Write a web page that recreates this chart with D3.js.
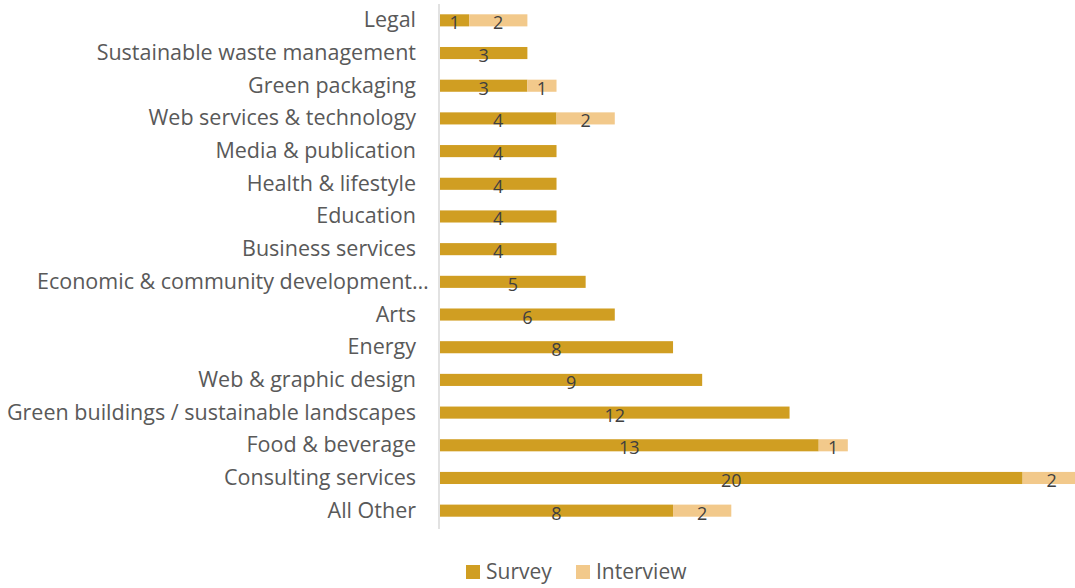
<!DOCTYPE html>
<html>
<head>
<meta charset="utf-8">
<script src="https://cdn.jsdelivr.net/npm/d3@7"></script>
<style>
  body { margin: 0; background: #fff; }
  svg { display: block; font-family: "Open Sans", sans-serif; }
</style>
</head>
<body>
<div id="chart"></div>
<script>
const categories = [
  'Legal',
  'Sustainable waste management',
  'Green packaging',
  'Web services & technology',
  'Media & publication',
  'Health & lifestyle',
  'Education',
  'Business services',
  'Economic & community development…',
  'Arts',
  'Energy',
  'Web & graphic design',
  'Green buildings / sustainable landscapes',
  'Food & beverage',
  'Consulting services',
  'All Other'
];
const survey    = [1, 3, 3, 4, 4, 4, 4, 4, 5, 6, 8, 9, 12, 13, 20, 8];
const interview = [2, 0, 1, 2, 0, 0, 0, 0, 0, 0, 0, 0, 0, 1, 2, 2];
const seriesNames = ['Survey', 'Interview'];
const seriesColors = ['#D09E22', '#F2C98B'];

const width = 1075;
const height = 588;
const margin = { top: 4, right: 0, bottom: 61, left: 440 };

const svg = d3.select('#chart')
  .append('svg')
  .attr('width', width)
  .attr('height', height);

const rows = categories.map((c, i) => ({ name: c, Survey: survey[i], Interview: interview[i] }));
const stacked = d3.stack().keys(seriesNames)(rows);

const x = d3.scaleLinear()
  .domain([0, 22])
  .range([margin.left, margin.left + 22 * 29.13]);

const y = d3.scaleBand()
  .domain(categories)
  .range([margin.top, height - margin.bottom])
  .paddingInner(0.63)
  .paddingOuter(0.315);

const color = d3.scaleOrdinal().domain(seriesNames).range(seriesColors);

// bars
const layer = svg.selectAll('.layer')
  .data(stacked)
  .enter().append('g')
  .attr('class', 'layer')
  .attr('fill', d => color(d.key));

layer.selectAll('rect')
  .data(d => d.filter(s => s[1] - s[0] > 0))
  .enter().append('rect')
  .attr('x', d => x(d[0]))
  .attr('y', d => y(d.data.name))
  .attr('width', d => x(d[1]) - x(d[0]))
  .attr('height', y.bandwidth());

// value labels
layer.selectAll('text')
  .data(d => d.filter(s => s[1] - s[0] > 0).map(s => ({ s, key: d.key })))
  .enter().append('text')
  .attr('x', d => (x(d.s[0]) + x(d.s[1])) / 2)
  .attr('y', d => y(d.s.data.name) + y.bandwidth() / 2 + 9)
  .attr('text-anchor', 'middle')
  .attr('font-size', 18)
  .attr('fill', '#404040')
  .text(d => d.s[1] - d.s[0]);

// vertical axis line
svg.append('line')
  .attr('x1', margin.left - 1)
  .attr('x2', margin.left - 1)
  .attr('y1', margin.top)
  .attr('y2', height - margin.bottom + 2)
  .attr('stroke', '#d9d9d9')
  .attr('stroke-width', 1.5);

// category labels (the truncated one overflows toward the axis, as in Excel)
const labelRight = 416;
svg.append('g')
  .selectAll('text')
  .data(categories)
  .enter().append('text')
  .attr('y', d => y(d) + y.bandwidth() / 2 + 7)
  .attr('font-size', 21.5)
  .attr('fill', '#595959')
  .attr('x', d => d.endsWith('…') ? 37 : labelRight)
  .attr('text-anchor', d => d.endsWith('…') ? 'start' : 'end')
  .text(d => d);

// legend
const legendX = [466, 576];
const legend = svg.append('g')
  .selectAll('g')
  .data(seriesNames)
  .enter().append('g')
  .attr('transform', (d, i) => `translate(${legendX[i]},565)`);

legend.append('rect')
  .attr('width', 14)
  .attr('height', 14)
  .attr('fill', d => color(d));

legend.append('text')
  .attr('x', 20)
  .attr('y', 14)
  .attr('font-size', 21)
  .attr('fill', '#595959')
  .text(d => d);
</script>
</body>
</html>
